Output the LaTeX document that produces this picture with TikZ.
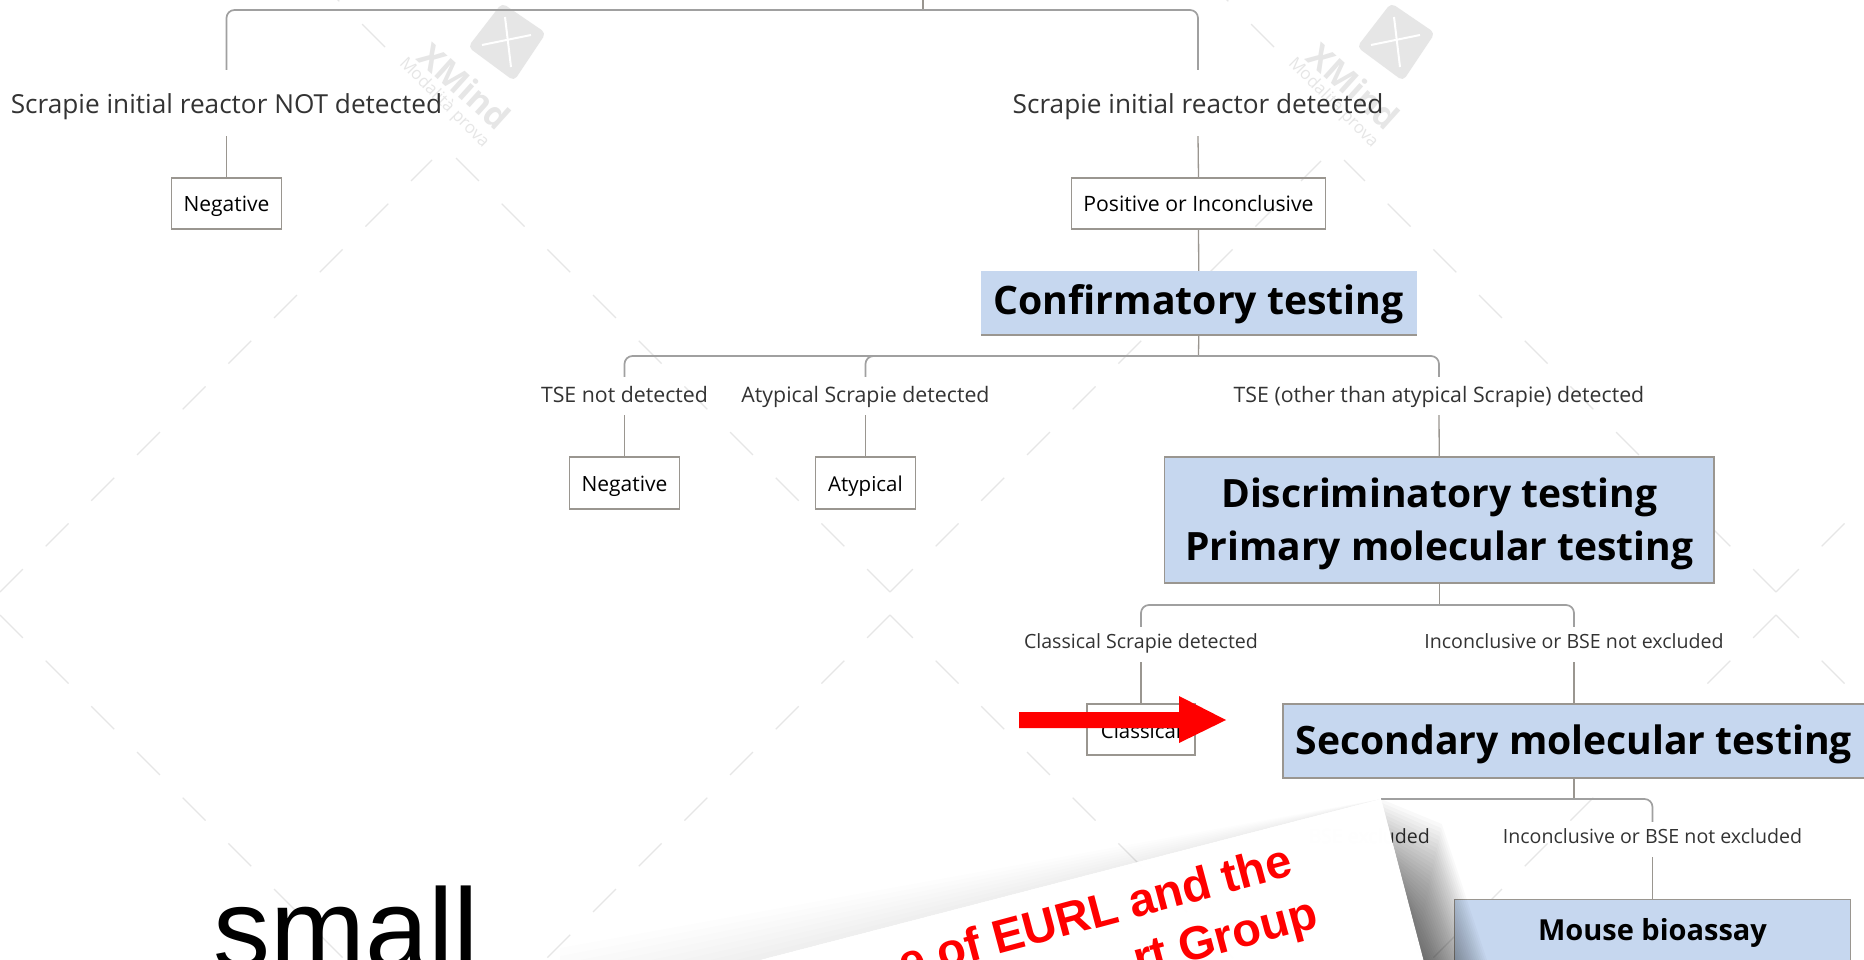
\documentclass[tikz,border=0pt]{standalone}
\usepackage{fontspec}
\setmainfont{Open Sans}
\newfontfamily\cardfont{Liberation Sans}
\definecolor{boxblue}{HTML}{C6D7EF}
\definecolor{linegray}{HTML}{9A9690}
\definecolor{busgray}{HTML}{A0A0A0}
\definecolor{markgray}{HTML}{E6E6E6}
\definecolor{inkgray}{HTML}{333333}
\tikzset{
  wmdash/.style={draw=markgray, line width=1.2pt, dash pattern=on 32.3pt off 32.3pt},
  link/.style={draw=linegray, line width=1.3pt},
  bus/.style={draw=busgray, line width=1.7pt, rounded corners=8pt},
  leaf/.style={draw=linegray, line width=1.3pt, inner sep=0pt, text=black, text height=22pt, text depth=5pt},
  bluebox/.style={fill=boxblue, draw=linegray, line width=1.3pt, inner sep=0pt, align=center, text=black},
  toplabel/.style={minimum height=66pt, inner sep=0pt, text=inkgray, text height=27pt, text depth=6pt, font=\fontsize{26.2}{30}\selectfont},
  midlabel/.style={minimum height=38pt, inner sep=0pt, text=inkgray, text height=18pt, text depth=6pt, font=\fontsize{21.3}{25}\selectfont},
  lowlabel/.style={minimum height=35pt, inner sep=0pt, text=inkgray, text height=14pt, text depth=7pt, font=\fontsize{19.6}{23}\selectfont}
}
\begin{document}
\begin{tikzpicture}[x=1pt, y=-1pt]
\useasboundingbox (0,0) rectangle (1864,960);
\clip (0,0) rectangle (1864,960);
\fill [white] (0,0) rectangle (1864,960);

% watermark
\foreach \ax/\ay/\bx/\by in {890/592/455/157, 890/592/1321/161, 0/592/432/160, 1776/592/1344/160, 1776/592/1864/504, 0/615/345/960, 890/615/545/960, 890/615/1235/960, 1776/615/1431/960, 1776/615/1864/703, 385/47/335/-3, 1274/47/1224/-3}
        \draw [wmdash] (\ax,\ay) -- (\bx,\by);

\foreach \dx in {0,889} {
        \fill [markgray, rounded corners=5pt] (502+\dx,3) to (546+\dx,33) to (514+\dx,81) to (468+\dx,47) -- cycle;
        \draw [white, line width=2pt] (505+\dx,17) to (511+\dx,67);
        \draw [white, line width=2pt] (482+\dx,45) to (531+\dx,35);
        \node [text=markgray, rotate=-42, font=\fontsize{34}{36}\selectfont\bfseries] (wmname\dx) at (465+\dx,86) {XMind};
        \node [text=markgray, rotate=-45, font=\fontsize{17}{20}\selectfont] (wmtrial\dx) at (444+\dx,103) {Modalità prova};
}

% tree, first level
\coordinate (topstub) at (923,0);
\coordinate (bustop) at (923,10);
\node [toplabel] (lblneg) at (226.5,103) {Scrapie initial reactor NOT detected};
\node [toplabel] (lblpos) at (1198,103) {Scrapie initial reactor detected};
\node [leaf, minimum width=110pt, minimum height=51pt, font=\fontsize{21}{24}\selectfont] (boxneg) at (226.5,203.5) {Negative};
\node [leaf, minimum width=254pt, minimum height=51pt, font=\fontsize{21.2}{24}\selectfont] (boxpos) at (1198.5,203.5) {Positive or Inconclusive};
\draw [link] (topstub) -- (bustop);
\draw [bus] (lblneg.north) |- (bustop) -| (lblpos.north);
\draw [link] (lblneg.south) -- (boxneg.north);
\draw [link] (lblpos.south) -- (boxpos.north);

% confirmatory
\node [fill=boxblue, inner sep=0pt, minimum width=435.5pt, minimum height=64pt, text height=32pt, text depth=9.4pt, font=\fontsize{39.2}{44}\selectfont\bfseries] (conf) at (1198.75,303) {Confirmatory testing};
\draw [linegray, line width=2pt] (conf.south west) -- (conf.south east);
\draw [link] (boxpos.south) -- (conf.north);
\coordinate (busconf) at (1198.5,356);
\node [midlabel] (lbltse) at (624.5,396) {TSE not detected};
\node [midlabel] (lblaty) at (865.5,396) {Atypical Scrapie detected};
\node [midlabel] (lblother) at (1439,396) {TSE (other than atypical Scrapie) detected};
\node [leaf, minimum width=110pt, minimum height=52pt, font=\fontsize{21}{24}\selectfont] (boxtse) at (624.5,483) {Negative};
\node [leaf, minimum width=100pt, minimum height=52pt, font=\fontsize{20.5}{24}\selectfont] (boxaty) at (865.5,483) {Atypical};
\draw [link] (conf.south) -- (busconf);
\draw [bus] (lbltse.north) |- (busconf) -| (lblother.north);
\draw [bus] (lblaty.north) |- (busconf);
\draw [link] (lbltse.south) -- (boxtse.north);
\draw [link] (lblaty.south) -- (boxaty.north);

% discriminatory
\node [bluebox, minimum width=549.5pt, minimum height=126pt, font=\fontsize{39}{52.5}\selectfont\bfseries] (disc) at (1439.25,520) {\rule{0pt}{37pt}Discriminatory testing\\Primary molecular testing};
\draw [link] (lblother.south) -- (disc.north);
\coordinate (busdisc) at (1439.25,605);
\node [lowlabel] (lblclass) at (1141,644.5) {Classical Scrapie detected};
\node [lowlabel] (lblincl) at (1574,644.5) {Inconclusive or BSE not excluded};
\node [leaf, minimum width=108pt, minimum height=51pt, font=\fontsize{20.4}{24}\selectfont] (boxclass) at (1141,729.5) {Classical};
\draw [link] (disc.south) -- (busdisc);
\draw [bus] (lblclass.north) |- (busdisc) -| (lblincl.north);
\draw [link] (lblclass.south) -- (boxclass.north);

% secondary and bioassay
\node [bluebox, minimum width=582pt, minimum height=74pt, text height=36pt, text depth=9pt, font=\fontsize{39.1}{44}\selectfont\bfseries] (second) at (1574,741) {Secondary molecular testing};
\draw [link] (lblincl.south) -- (second.north);
\coordinate (busleft) at (1381,799);
\coordinate (bussecond) at (1574,799);
\node [lowlabel, anchor=east] (lblhidden) at (1430,839.5) {BSE excluded};
\node [lowlabel] (lblmouse) at (1652.5,839.5) {Inconclusive or BSE not excluded};
\node [bluebox, anchor=north, minimum width=395.5pt, text depth=100pt, inner ysep=19pt, font=\fontsize{29}{33}\selectfont\bfseries] (mouse) at (1652.5,899) {Mouse bioassay};
\draw [link] (second.south) -- (bussecond);
\draw [bus] (busleft) -| (lblmouse.north);
\draw [link] (lblmouse.south) -- (mouse.north);

% big word, bottom left
\node [anchor=base west, inner sep=0pt, font=\fontsize{114}{120}\selectfont\cardfont] (smallword) at (213,968) {small};

% red arrow
\fill [red] (1019,712) to (1179,712) to (1179,696) to (1226,720) to (1179,743) to (1179,728) to (1019,728) -- cycle;

% shadow of the sheet
\foreach \i in {1,...,32}
        \fill [black, fill opacity=0.022] ({1381+0.261*(32-\i)*4},{799+(32-\i)*4}) to ({1381+0.261*(32-\i)*4+\i*1.9},{824+(32-\i)*4}) to ({1423+\i*2},960) to (1423,960) -- cycle;
\foreach \i in {1,...,8}
        \fill [black, fill opacity=0.006] (1381,799) to (560,{1012-\i*8}) to (560,1012) -- cycle;

% sheet laid over the tree
\fill [white, fill opacity=0.995] (1381,799) to (560,1012) to (1425,966) -- cycle;
\node [anchor=base east, inner sep=0pt, rotate=15, text=red, font=\fontsize{47}{50}\selectfont\cardfont\bfseries] (sheetone) at (1295,875) {e of EURL and the};
\node [anchor=base east, inner sep=0pt, rotate=15, text=red, font=\fontsize{47}{50}\selectfont\cardfont\bfseries] (sheettwo) at (1320,927) {rt Group};
\end{tikzpicture}
\end{document}
